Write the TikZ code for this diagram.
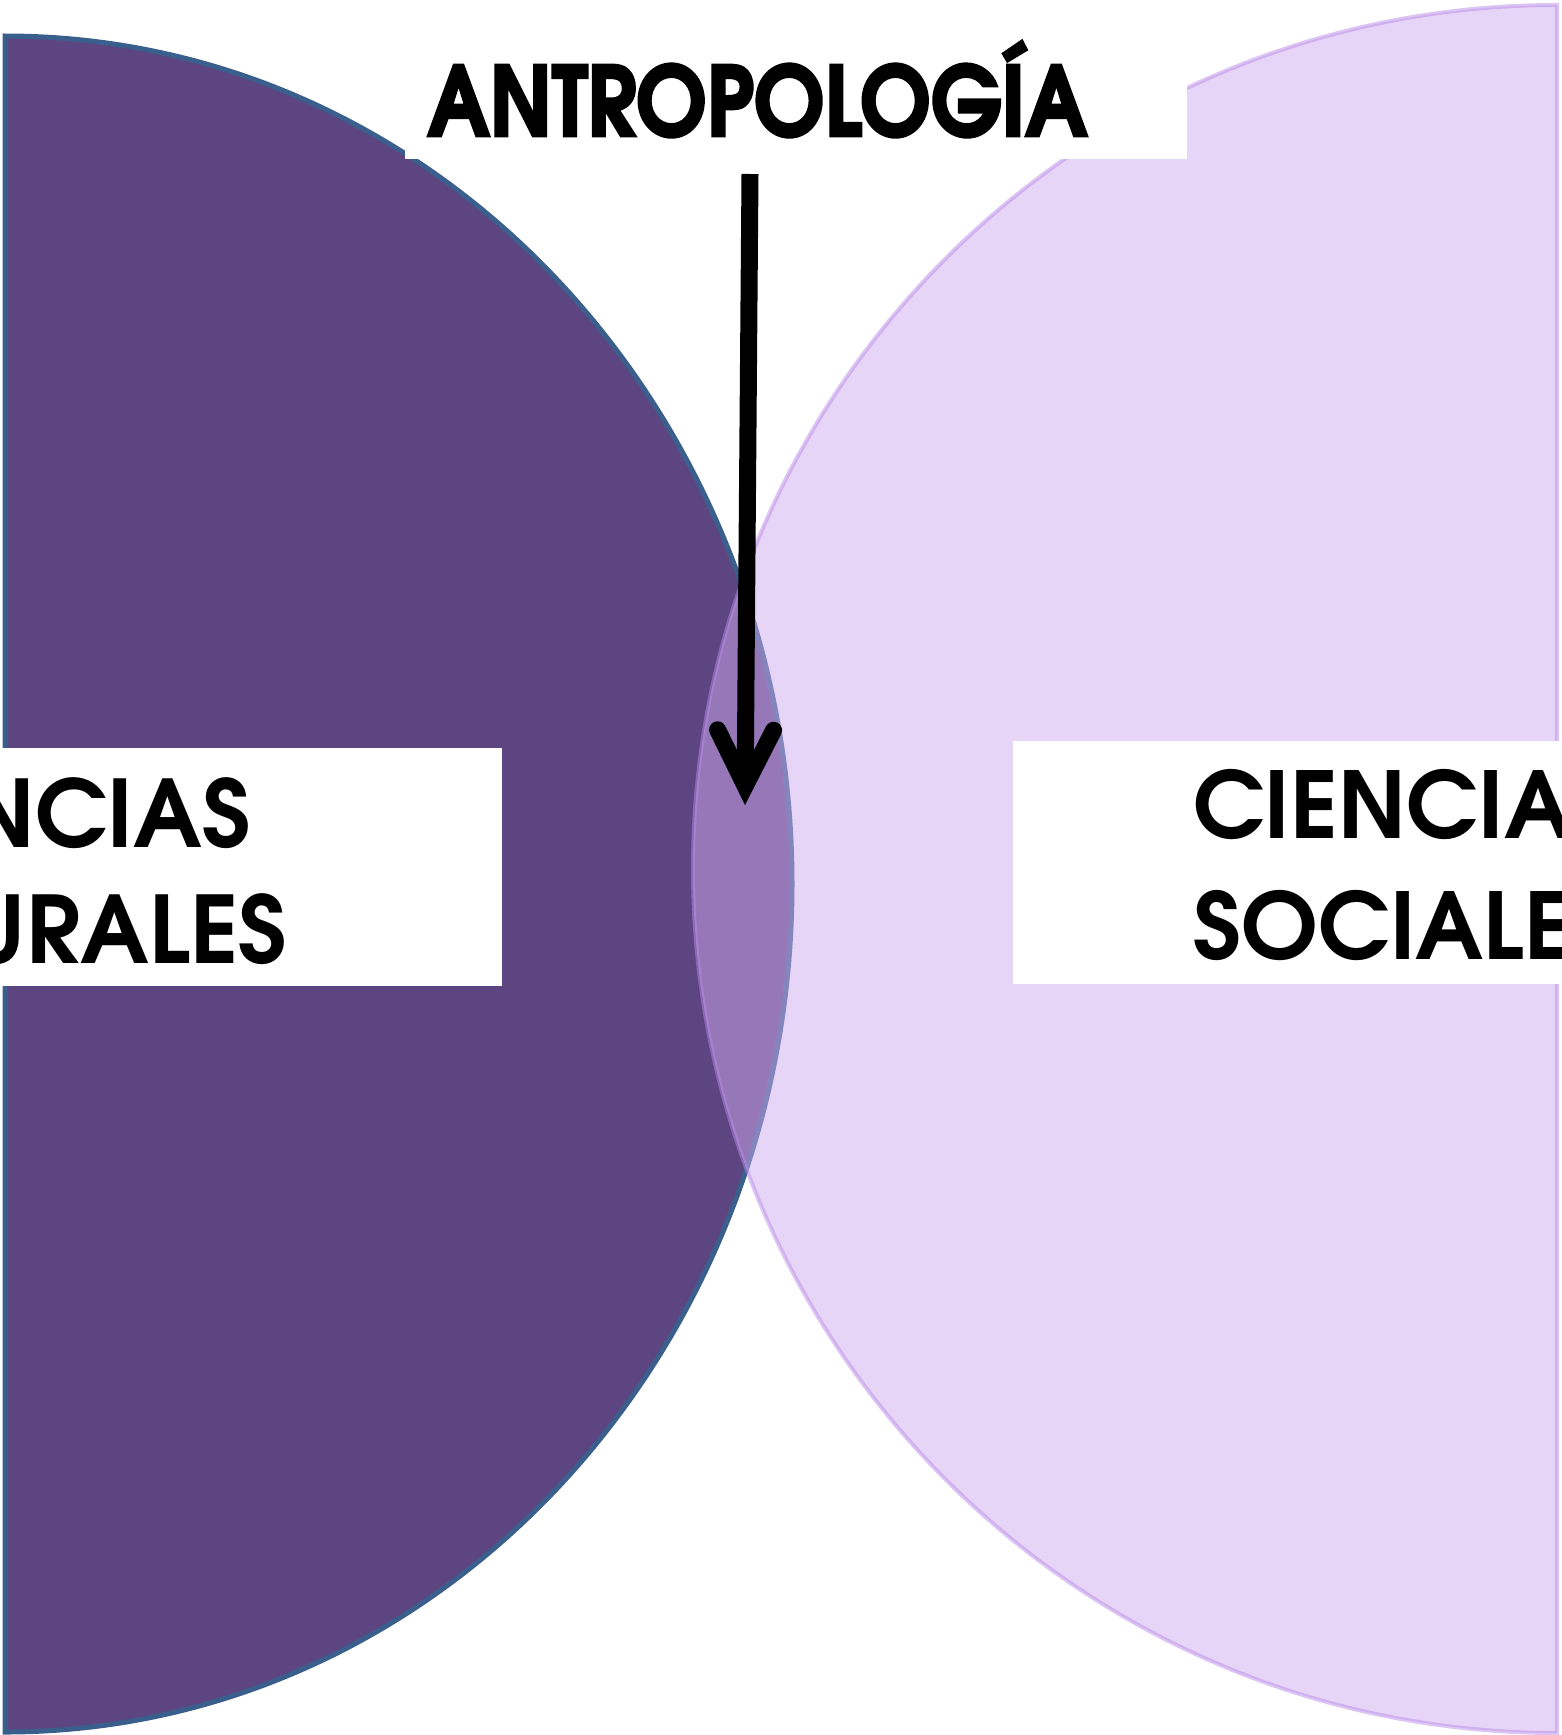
\documentclass[tikz,border=0pt]{standalone}
\usepackage{fontspec}
\setmainfont{texgyreadventor}[Extension=.otf, UprightFont=*-regular, BoldFont=*-bold]
\newfontfamily\antrofont{texgyreadventor}[Extension=.otf, UprightFont=*-bold, FakeBold=3]
\usetikzlibrary{arrows.meta}
\definecolor{darkpurple}{HTML}{5C4581}
\definecolor{darkedge}{HTML}{3A5F8C}
\definecolor{lightpurple}{HTML}{D0ACF0}
\definecolor{lightedge}{HTML}{B98AE8}
\tikzset{
  labelbox/.style={fill=white, draw=none, inner sep=0pt},
  bigword/.style={inner sep=0pt, text=black, font=\bfseries},
  pointer/.style={line width=17pt, draw=black,
    -{Straight Barb[length=56pt, width=56pt, line cap=round, line join=miter]}}
}
\begin{document}
\begin{tikzpicture}[x=1pt, y=-1pt]
\useasboundingbox (0,0) rectangle (1562,1735);
% left half ellipse
\draw[fill=darkpurple, draw=darkedge, line width=5pt]
  (5,36) arc[start angle=-90, end angle=90, x radius=787, y radius=848] -- cycle;
% right half circle
\draw[fill=lightpurple, fill opacity=0.5, draw=lightedge, draw opacity=0.5, line width=4pt]
  (1557,5) arc[start angle=-90, end angle=-270, radius=864] -- cycle;
% label boxes
\node[labelbox, minimum width=782pt, minimum height=159pt, anchor=north west] (antrobox) at (405,0) {};
\node[labelbox, minimum width=502pt, minimum height=238pt, anchor=north west] (natbox) at (0,748) {};
\node[labelbox, minimum width=549pt, minimum height=243pt, anchor=north west] (socbox) at (1013,741) {};
% texts
\node[inner sep=0pt, text=black, anchor=base] (antro) at (757.5,136)
  {\antrofont\fontsize{96pt}{96pt}\selectfont\resizebox{660pt}{\height}{ANTROPOLOGÍA}};
\node[bigword, anchor=base east] (nat1) at (251,847) {\fontsize{93pt}{93pt}\selectfont CIENCIAS};
\node[bigword, anchor=base east] (nat2) at (287,963) {\fontsize{93pt}{93pt}\selectfont NATURALES};
\node[bigword, anchor=base west] (soc1) at (1193,838) {\fontsize{92pt}{92pt}\selectfont CIENCIAS};
\node[bigword, anchor=base west] (soc2) at (1193,959) {\fontsize{92pt}{92pt}\selectfont SOCIALES};
% arrow
\coordinate (arrowstart) at (750,174);
\coordinate (arrowtip) at (745,805);
\draw[pointer] (arrowstart) -- (arrowtip);
\end{tikzpicture}
\end{document}
